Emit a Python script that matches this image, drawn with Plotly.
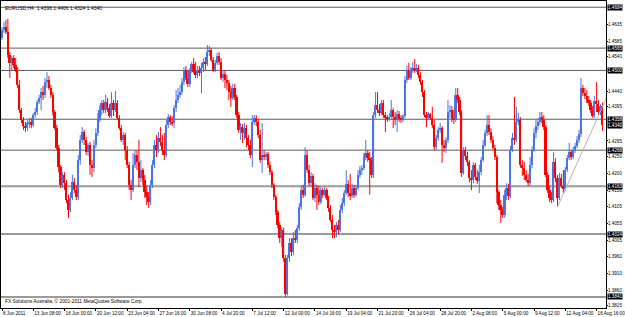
import plotly.graph_objects as go

# ---------------- data (EURUSD H4) ----------------
opens = [
 1.4594, 1.4618, 1.4626, 1.4612, 1.4545, 1.4522, 1.4536, 1.4516, 1.4501, 1.4458,
 1.4385, 1.4356, 1.4338, 1.4332, 1.4347, 1.4350, 1.4341, 1.4370, 1.4379, 1.4408,
 1.4420, 1.4437, 1.4429, 1.4466, 1.4472, 1.4449, 1.4429, 1.4379, 1.4332, 1.4274,
 1.4219, 1.4167, 1.4196, 1.4172, 1.4123, 1.4094, 1.4129, 1.4175, 1.4152, 1.4132,
 1.4239, 1.4298, 1.4321, 1.4298, 1.4263, 1.4283, 1.4225, 1.4216, 1.4283, 1.4318,
 1.4356, 1.4385, 1.4405, 1.4385, 1.4408, 1.4391, 1.4367, 1.4405, 1.4385, 1.4405,
 1.4362, 1.4332, 1.4298, 1.4312, 1.4268, 1.4225, 1.4167, 1.4152, 1.4225, 1.4254,
 1.4234, 1.4187, 1.4210, 1.4181, 1.4146, 1.4132, 1.4117, 1.4167, 1.4225, 1.4283,
 1.4268, 1.4303, 1.4292, 1.4268, 1.4254, 1.4341, 1.4364, 1.4350, 1.4347, 1.4391,
 1.4414, 1.4429, 1.4437, 1.4466, 1.4501, 1.4478, 1.4461, 1.4501, 1.4519, 1.4495,
 1.4487, 1.4501, 1.4493, 1.4507, 1.4525, 1.4519, 1.4554, 1.4559, 1.4530, 1.4501,
 1.4522, 1.4542, 1.4525, 1.4478, 1.4490, 1.4472, 1.4463, 1.4437, 1.4420, 1.4449,
 1.4423, 1.4370, 1.4327, 1.4335, 1.4318, 1.4332, 1.4303, 1.4283, 1.4254, 1.4350,
 1.4362, 1.4350, 1.4312, 1.4239, 1.4254, 1.4248, 1.4257, 1.4225, 1.4204, 1.4167,
 1.4132, 1.4088, 1.4050, 1.4012, 1.4036, 1.3954, 1.3850, 1.3954, 1.3998, 1.3972,
 1.4012, 1.4007, 1.4042, 1.4103, 1.4152, 1.4138, 1.4254, 1.4210, 1.4172, 1.4193,
 1.4129, 1.4158, 1.4138, 1.4117, 1.4152, 1.4138, 1.4152, 1.4129, 1.4100, 1.4065,
 1.4036, 1.4030, 1.4050, 1.4036, 1.4094, 1.4114, 1.4143, 1.4170, 1.4143, 1.4135,
 1.4158, 1.4138, 1.4158, 1.4196, 1.4210, 1.4216, 1.4248, 1.4260, 1.4245, 1.4239,
 1.4196, 1.4370, 1.4399, 1.4385, 1.4376, 1.4405, 1.4370, 1.4362, 1.4359, 1.4364,
 1.4385, 1.4364, 1.4356, 1.4373, 1.4359, 1.4356, 1.4367, 1.4472, 1.4501, 1.4478,
 1.4501, 1.4507, 1.4501, 1.4507, 1.4487, 1.4466, 1.4437, 1.4370, 1.4362, 1.4373,
 1.4362, 1.4341, 1.4277, 1.4303, 1.4327, 1.4332, 1.4283, 1.4274, 1.4298, 1.4379,
 1.4385, 1.4362, 1.4356, 1.4429, 1.4414, 1.4379, 1.4202, 1.4268, 1.4251, 1.4234,
 1.4187, 1.4181, 1.4225, 1.4190, 1.4178, 1.4204, 1.4239, 1.4283, 1.4318, 1.4341,
 1.4321, 1.4298, 1.4274, 1.4248, 1.4146, 1.4108, 1.4094, 1.4079, 1.4138, 1.4158,
 1.4135, 1.4268, 1.4303, 1.4298, 1.4350, 1.4356, 1.4225, 1.4216, 1.4196, 1.4181,
 1.4172, 1.4225, 1.4268, 1.4318, 1.4338, 1.4350, 1.4364, 1.4356, 1.4335, 1.4196,
 1.4152, 1.4129, 1.4123, 1.4234, 1.4187, 1.4129, 1.4187, 1.4164, 1.4155, 1.4210,
 1.4245, 1.4263, 1.4248, 1.4268, 1.4280, 1.4298, 1.4315, 1.4449, 1.4434, 1.4426,
 1.4414, 1.4405, 1.4385, 1.4367, 1.4411, 1.4402, 1.4379, 1.4396,
]
highs = [
 1.4626, 1.4641, 1.4647, 1.4650, 1.4554, 1.4542, 1.4545, 1.4536, 1.4510, 1.4472,
 1.4391, 1.4364, 1.4350, 1.4356, 1.4362, 1.4362, 1.4376, 1.4391, 1.4414, 1.4429,
 1.4449, 1.4455, 1.4478, 1.4495, 1.4484, 1.4458, 1.4437, 1.4385, 1.4341, 1.4283,
 1.4225, 1.4204, 1.4204, 1.4181, 1.4138, 1.4146, 1.4196, 1.4187, 1.4167, 1.4254,
 1.4312, 1.4335, 1.4327, 1.4306, 1.4289, 1.4292, 1.4239, 1.4298, 1.4332, 1.4376,
 1.4399, 1.4414, 1.4414, 1.4429, 1.4420, 1.4402, 1.4437, 1.4414, 1.4440, 1.4414,
 1.4370, 1.4341, 1.4321, 1.4318, 1.4280, 1.4234, 1.4181, 1.4260, 1.4268, 1.4268,
 1.4298, 1.4239, 1.4216, 1.4196, 1.4164, 1.4146, 1.4181, 1.4239, 1.4298, 1.4312,
 1.4321, 1.4335, 1.4312, 1.4318, 1.4356, 1.4373, 1.4370, 1.4367, 1.4399, 1.4443,
 1.4449, 1.4458, 1.4478, 1.4510, 1.4513, 1.4501, 1.4507, 1.4525, 1.4536, 1.4525,
 1.4513, 1.4513, 1.4522, 1.4536, 1.4539, 1.4574, 1.4571, 1.4565, 1.4539, 1.4530,
 1.4551, 1.4554, 1.4536, 1.4501, 1.4501, 1.4487, 1.4472, 1.4455, 1.4461, 1.4461,
 1.4429, 1.4379, 1.4347, 1.4344, 1.4347, 1.4341, 1.4312, 1.4298, 1.4370, 1.4370,
 1.4370, 1.4359, 1.4327, 1.4347, 1.4268, 1.4263, 1.4263, 1.4234, 1.4210, 1.4172,
 1.4138, 1.4094, 1.4059, 1.4044, 1.4042, 1.3963, 1.3963, 1.4012, 1.4012, 1.4030,
 1.4036, 1.4050, 1.4114, 1.4167, 1.4167, 1.4277, 1.4268, 1.4225, 1.4204, 1.4199,
 1.4172, 1.4167, 1.4164, 1.4161, 1.4158, 1.4161, 1.4158, 1.4135, 1.4108, 1.4079,
 1.4050, 1.4059, 1.4065, 1.4108, 1.4129, 1.4152, 1.4210, 1.4181, 1.4199, 1.4170,
 1.4167, 1.4167, 1.4210, 1.4222, 1.4225, 1.4260, 1.4298, 1.4268, 1.4263, 1.4248,
 1.4379, 1.4437, 1.4437, 1.4402, 1.4414, 1.4414, 1.4379, 1.4370, 1.4376, 1.4414,
 1.4391, 1.4379, 1.4385, 1.4382, 1.4370, 1.4373, 1.4484, 1.4513, 1.4522, 1.4510,
 1.4525, 1.4533, 1.4519, 1.4516, 1.4495, 1.4472, 1.4443, 1.4379, 1.4379, 1.4376,
 1.4394, 1.4356, 1.4312, 1.4335, 1.4347, 1.4338, 1.4298, 1.4306, 1.4414, 1.4399,
 1.4397, 1.4385, 1.4449, 1.4449, 1.4423, 1.4385, 1.4277, 1.4277, 1.4263, 1.4239,
 1.4210, 1.4234, 1.4231, 1.4210, 1.4225, 1.4248, 1.4298, 1.4327, 1.4370, 1.4370,
 1.4332, 1.4309, 1.4283, 1.4254, 1.4152, 1.4123, 1.4103, 1.4152, 1.4172, 1.4170,
 1.4280, 1.4318, 1.4423, 1.4394, 1.4376, 1.4364, 1.4239, 1.4234, 1.4210, 1.4199,
 1.4248, 1.4280, 1.4332, 1.4356, 1.4362, 1.4379, 1.4379, 1.4370, 1.4341, 1.4204,
 1.4164, 1.4146, 1.4263, 1.4245, 1.4196, 1.4202, 1.4199, 1.4210, 1.4219, 1.4254,
 1.4289, 1.4268, 1.4277, 1.4289, 1.4309, 1.4327, 1.4478, 1.4458, 1.4449, 1.4443,
 1.4426, 1.4414, 1.4397, 1.4426, 1.4466, 1.4414, 1.4402, 1.4406,
]
lows = [
 1.4589, 1.4609, 1.4606, 1.4536, 1.4478, 1.4501, 1.4507, 1.4495, 1.4449, 1.4376,
 1.4347, 1.4327, 1.4321, 1.4324, 1.4332, 1.4332, 1.4335, 1.4362, 1.4370, 1.4402,
 1.4385, 1.4414, 1.4420, 1.4449, 1.4443, 1.4420, 1.4370, 1.4327, 1.4268, 1.4204,
 1.4158, 1.4158, 1.4152, 1.4114, 1.4071, 1.4088, 1.4123, 1.4143, 1.4123, 1.4123,
 1.4225, 1.4289, 1.4283, 1.4254, 1.4251, 1.4196, 1.4190, 1.4204, 1.4274, 1.4309,
 1.4350, 1.4370, 1.4376, 1.4376, 1.4379, 1.4362, 1.4362, 1.4367, 1.4379, 1.4356,
 1.4327, 1.4292, 1.4283, 1.4239, 1.4216, 1.4152, 1.4123, 1.4146, 1.4216, 1.4210,
 1.4161, 1.4175, 1.4167, 1.4129, 1.4108, 1.4100, 1.4108, 1.4158, 1.4216, 1.4248,
 1.4260, 1.4280, 1.4254, 1.4239, 1.4248, 1.4332, 1.4341, 1.4338, 1.4332, 1.4379,
 1.4405, 1.4420, 1.4429, 1.4458, 1.4472, 1.4452, 1.4452, 1.4493, 1.4490, 1.4478,
 1.4478, 1.4484, 1.4434, 1.4495, 1.4501, 1.4513, 1.4542, 1.4525, 1.4495, 1.4495,
 1.4516, 1.4516, 1.4472, 1.4466, 1.4449, 1.4443, 1.4414, 1.4394, 1.4414, 1.4414,
 1.4362, 1.4318, 1.4298, 1.4289, 1.4298, 1.4277, 1.4268, 1.4245, 1.4219, 1.4341,
 1.4338, 1.4303, 1.4231, 1.4202, 1.4239, 1.4239, 1.4216, 1.4196, 1.4158, 1.4123,
 1.4079, 1.4041, 1.3998, 1.3986, 1.3943, 1.3841, 1.3845, 1.3943, 1.3960, 1.3963,
 1.3998, 1.3998, 1.4033, 1.4094, 1.4129, 1.4132, 1.4202, 1.4164, 1.4161, 1.4123,
 1.4117, 1.4094, 1.4108, 1.4111, 1.4129, 1.4135, 1.4123, 1.4088, 1.4059, 1.4012,
 1.4012, 1.4015, 1.4024, 1.4030, 1.4085, 1.4105, 1.4138, 1.4132, 1.4123, 1.4129,
 1.4129, 1.4132, 1.4152, 1.4187, 1.4196, 1.4210, 1.4239, 1.4234, 1.4138, 1.4187,
 1.4187, 1.4362, 1.4376, 1.4367, 1.4370, 1.4362, 1.4321, 1.4350, 1.4353, 1.4359,
 1.4332, 1.4341, 1.4321, 1.4350, 1.4347, 1.4350, 1.4362, 1.4463, 1.4472, 1.4472,
 1.4493, 1.4493, 1.4495, 1.4478, 1.4458, 1.4423, 1.4364, 1.4335, 1.4356, 1.4356,
 1.4332, 1.4268, 1.4268, 1.4295, 1.4318, 1.4231, 1.4263, 1.4260, 1.4289, 1.4362,
 1.4350, 1.4344, 1.4350, 1.4405, 1.4370, 1.4190, 1.4196, 1.4239, 1.4222, 1.4175,
 1.4152, 1.4172, 1.4181, 1.4170, 1.4143, 1.4196, 1.4234, 1.4277, 1.4309, 1.4312,
 1.4289, 1.4268, 1.4239, 1.4114, 1.4094, 1.4056, 1.4071, 1.4071, 1.4123, 1.4123,
 1.4129, 1.4263, 1.4283, 1.4292, 1.4341, 1.4216, 1.4193, 1.4181, 1.4175, 1.4164,
 1.4164, 1.4216, 1.4263, 1.4303, 1.4327, 1.4341, 1.4347, 1.4327, 1.4190, 1.4143,
 1.4117, 1.4114, 1.4117, 1.4175, 1.4103, 1.4123, 1.4158, 1.4143, 1.4149, 1.4204,
 1.4239, 1.4239, 1.4242, 1.4260, 1.4274, 1.4289, 1.4306, 1.4426, 1.4417, 1.4405,
 1.4397, 1.4376, 1.4362, 1.4362, 1.4379, 1.4370, 1.4370, 1.4324,
]
closes = [
 1.4618, 1.4626, 1.4612, 1.4545, 1.4522, 1.4536, 1.4516, 1.4501, 1.4458, 1.4385,
 1.4356, 1.4338, 1.4332, 1.4347, 1.4350, 1.4341, 1.4370, 1.4379, 1.4408, 1.4420,
 1.4437, 1.4429, 1.4466, 1.4472, 1.4449, 1.4429, 1.4379, 1.4332, 1.4274, 1.4219,
 1.4167, 1.4196, 1.4172, 1.4123, 1.4094, 1.4129, 1.4175, 1.4152, 1.4132, 1.4239,
 1.4298, 1.4321, 1.4298, 1.4263, 1.4283, 1.4225, 1.4216, 1.4283, 1.4318, 1.4356,
 1.4385, 1.4405, 1.4385, 1.4408, 1.4391, 1.4367, 1.4405, 1.4385, 1.4405, 1.4362,
 1.4332, 1.4298, 1.4312, 1.4268, 1.4225, 1.4167, 1.4152, 1.4225, 1.4254, 1.4234,
 1.4187, 1.4210, 1.4181, 1.4146, 1.4132, 1.4117, 1.4167, 1.4225, 1.4283, 1.4268,
 1.4303, 1.4292, 1.4268, 1.4254, 1.4341, 1.4364, 1.4350, 1.4347, 1.4391, 1.4414,
 1.4429, 1.4437, 1.4466, 1.4501, 1.4478, 1.4461, 1.4501, 1.4519, 1.4495, 1.4487,
 1.4501, 1.4493, 1.4507, 1.4525, 1.4519, 1.4554, 1.4559, 1.4530, 1.4501, 1.4522,
 1.4542, 1.4525, 1.4478, 1.4490, 1.4472, 1.4463, 1.4437, 1.4420, 1.4449, 1.4423,
 1.4370, 1.4327, 1.4335, 1.4318, 1.4332, 1.4303, 1.4283, 1.4254, 1.4350, 1.4362,
 1.4350, 1.4312, 1.4239, 1.4254, 1.4248, 1.4257, 1.4225, 1.4204, 1.4167, 1.4132,
 1.4088, 1.4050, 1.4012, 1.4036, 1.3954, 1.3850, 1.3954, 1.3998, 1.3972, 1.4012,
 1.4007, 1.4042, 1.4103, 1.4152, 1.4138, 1.4254, 1.4210, 1.4172, 1.4193, 1.4129,
 1.4158, 1.4138, 1.4117, 1.4152, 1.4138, 1.4152, 1.4129, 1.4100, 1.4065, 1.4036,
 1.4030, 1.4050, 1.4036, 1.4094, 1.4114, 1.4143, 1.4170, 1.4143, 1.4135, 1.4158,
 1.4138, 1.4158, 1.4196, 1.4210, 1.4216, 1.4248, 1.4260, 1.4245, 1.4239, 1.4196,
 1.4370, 1.4399, 1.4385, 1.4376, 1.4405, 1.4370, 1.4362, 1.4359, 1.4364, 1.4385,
 1.4364, 1.4356, 1.4373, 1.4359, 1.4356, 1.4367, 1.4472, 1.4501, 1.4478, 1.4501,
 1.4507, 1.4501, 1.4507, 1.4487, 1.4466, 1.4437, 1.4370, 1.4362, 1.4373, 1.4362,
 1.4341, 1.4277, 1.4303, 1.4327, 1.4332, 1.4283, 1.4274, 1.4298, 1.4379, 1.4385,
 1.4362, 1.4356, 1.4429, 1.4414, 1.4379, 1.4202, 1.4268, 1.4251, 1.4234, 1.4187,
 1.4181, 1.4225, 1.4190, 1.4178, 1.4204, 1.4239, 1.4283, 1.4318, 1.4341, 1.4321,
 1.4298, 1.4274, 1.4248, 1.4146, 1.4108, 1.4094, 1.4079, 1.4138, 1.4158, 1.4135,
 1.4268, 1.4303, 1.4298, 1.4350, 1.4356, 1.4225, 1.4216, 1.4196, 1.4181, 1.4172,
 1.4225, 1.4268, 1.4318, 1.4338, 1.4350, 1.4364, 1.4356, 1.4335, 1.4196, 1.4152,
 1.4129, 1.4123, 1.4234, 1.4187, 1.4129, 1.4187, 1.4164, 1.4155, 1.4210, 1.4245,
 1.4263, 1.4248, 1.4268, 1.4280, 1.4298, 1.4315, 1.4449, 1.4434, 1.4426, 1.4414,
 1.4405, 1.4385, 1.4367, 1.4411, 1.4402, 1.4379, 1.4396, 1.4340,
]

tick_bars = [0, 16, 32, 48, 64, 80, 96, 112, 128, 144, 160, 176, 192, 208, 224, 240, 256, 272, 288, 304]
tick_labels = ["8 Jun 2011", "13 Jun 08:00", "16 Jun 00:00", "20 Jun 12:00", "23 Jun 04:00",
               "27 Jun 16:00", "30 Jun 08:00", "4 Jul 20:00", "7 Jul 12:00", "12 Jul 00:00",
               "14 Jul 16:00", "19 Jul 04:00", "21 Jul 20:00", "26 Jul 04:00", "28 Jul 20:00",
               "2 Aug 08:00", "5 Aug 00:00", "9 Aug 12:00", "12 Aug 04:00", "16 Aug 16:00"]
price_ticks = [1.4635, 1.4585, 1.4540, 1.4440, 1.4395, 1.4295, 1.4250, 1.4200, 1.4150,
               1.4105, 1.4055, 1.4005, 1.3960, 1.3910, 1.3860, 1.3815]
dark_levels = [1.4684, 1.4565, 1.4500, 1.4358, 1.4268]
light_levels = [1.4163, 1.4024, 1.3841]
trend_bars = [284, 309]
trend_prices = [1.4103, 1.4420]

title_text = "EURUSD,H4  1.4396 1.4406 1.4324 1.4340"
copyright_text = "FX Solutions Australia, \u00a9 2001-2011 MetaQuotes Software Corp."

UP = "#4a74e6"
DOWN = "#ff0000"
FONT = "Liberation Sans"
FS = 4.6

n = len(closes)
x_idx = list(range(n))

fig = go.Figure()

# wicks
for is_up, col in ((True, UP), (False, DOWN)):
    wx, wy = [], []
    for i in range(n):
        if (closes[i] >= opens[i]) == is_up:
            wx += [i, i, None]
            wy += [lows[i], highs[i], None]
    fig.add_trace(go.Scatter(x=wx, y=wy, mode="lines", line=dict(color=col, width=1),
                             hoverinfo="skip", showlegend=False))

# bodies
fig.add_trace(go.Bar(
    x=x_idx,
    y=[abs(c - o) for o, c in zip(opens, closes)],
    base=[min(o, c) for o, c in zip(opens, closes)],
    width=0.85,
    marker=dict(color=[UP if c >= o else DOWN for o, c in zip(opens, closes)], line=dict(width=0)),
    showlegend=False,
))

# trendline
fig.add_trace(go.Scatter(x=trend_bars, y=trend_prices, mode="lines",
                         line=dict(color="#b4b4b4", width=1), showlegend=False, cliponaxis=True))

shapes = []
for p in dark_levels:
    shapes.append(dict(type="line", xref="paper", x0=0, x1=1, yref="y", y0=p, y1=p,
                       line=dict(color="#5a5a5a", width=1), layer="below"))
for p in light_levels:
    shapes.append(dict(type="line", xref="paper", x0=0, x1=1, yref="y", y0=p, y1=p,
                       line=dict(color="#9a9a9a", width=2), layer="below"))

annotations = []
for p in dark_levels + light_levels + [closes[-1]]:
    annotations.append(dict(xref="paper", x=1, xanchor="left", xshift=1, yref="y", y=p,
                            yanchor="middle", text=f"{p:.4f}", showarrow=False,
                            bgcolor="#000000", borderpad=0,
                            font=dict(family=FONT, size=FS, color="#ffffff")))
annotations.append(dict(xref="paper", yref="paper", x=0, y=1, xanchor="left", yanchor="top",
                        xshift=2, yshift=-2, text=title_text, showarrow=False,
                        font=dict(family=FONT, size=5, color="#000000")))
annotations.append(dict(xref="paper", yref="paper", x=0, y=0, xanchor="left", yanchor="bottom",
                        xshift=2, yshift=2, text=copyright_text, showarrow=False,
                        font=dict(family=FONT, size=4.8, color="#000000")))

fig.update_layout(
    width=625, height=317,
    margin=dict(l=1, r=19, t=1, b=9, autoexpand=False),
    paper_bgcolor="#ffffff", plot_bgcolor="#ffffff",
    showlegend=False, bargap=0,
    shapes=shapes, annotations=annotations,
    xaxis=dict(range=[-0.51, 308.8], tickmode="array", tickvals=tick_bars, ticktext=tick_labels,
               tickangle=0, automargin=False, ticklabeloverflow="allow",
               ticks="outside", ticklen=2, tickcolor="#000000", ticklabelposition="outside right",
               showline=True, linecolor="#000000", linewidth=1, mirror=True,
               showgrid=False, zeroline=False,
               tickfont=dict(family=FONT, size=FS, color="#000000")),
    yaxis=dict(range=[1.38087, 1.47021], side="right", tickmode="array", tickvals=price_ticks,
               ticktext=[f"{v:.4f}" for v in price_ticks], automargin=False,
               ticklabeloverflow="allow",
               ticks="outside", ticklen=1, tickcolor="#000000", ticklabelstandoff=-1,
               showline=True, linecolor="#000000", linewidth=1, mirror=True,
               showgrid=False, zeroline=False,
               tickfont=dict(family=FONT, size=FS, color="#000000")),
)

fig.write_html("out.html")
